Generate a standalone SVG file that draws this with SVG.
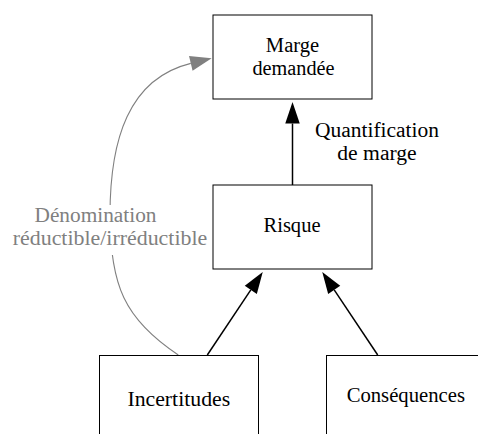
<svg xmlns="http://www.w3.org/2000/svg" width="478" height="434" viewBox="0 0 478 434" font-family="Liberation Serif, DejaVu Serif, Times New Roman, serif">
  <defs>
    <style>
      .box { fill: #ffffff; stroke: #000000; stroke-width: 1; }
      .lbl { font-size: 20px; fill: #000000; text-anchor: middle; }
      .note { font-size: 20px; fill: #808080; text-anchor: middle; }
      .edge { fill: none; stroke: #000000; stroke-width: 1.5; }
      .edge-gray { fill: none; stroke: #808080; stroke-width: 1.1; }
    </style>
    <!-- triangular heads; the path ends at the base of the head -->
    <marker id="head" markerUnits="userSpaceOnUse" markerWidth="22" markerHeight="15" refX="0" refY="7.25" orient="auto" overflow="visible">
      <path d="M0,0 L21.5,7.25 L0,14.5 z" fill="#000000"/>
    </marker>
    <marker id="head-gray" markerUnits="userSpaceOnUse" markerWidth="22" markerHeight="16" refX="0" refY="7.5" orient="auto" overflow="visible">
      <path d="M0,0 L21.5,7.5 L0,15 z" fill="#808080"/>
    </marker>
  </defs>

  <rect width="478" height="434" fill="#ffffff"/>

  <!-- connectors -->
  <g id="connectors">
    <path class="edge" d="M292.5,185 L292.5,123.5" marker-end="url(#head)"/>
    <path class="edge" d="M207.3,355 L250.8,289.9" marker-end="url(#head)"/>
    <path class="edge" d="M377.7,355 L334.2,289.9" marker-end="url(#head)"/>
    <path class="edge-gray" d="M178.3,355 C124.35,319.25 110,285 110,215 C110,140 128.5,78.6 190.8,63.35" marker-end="url(#head-gray)"/>
  </g>

  <!-- label of the gray connector, on a white ground -->
  <g id="label-denomination">
    <rect x="8" y="205" width="203" height="50" fill="#ffffff"/>
    <text class="note" x="95.5" y="221.5" textLength="122" lengthAdjust="spacingAndGlyphs">Dénomination</text>
    <text class="note" x="110" y="245" textLength="194.5" lengthAdjust="spacingAndGlyphs">réductible/irréductible</text>
  </g>

  <g id="label-quantification">
    <text class="lbl" x="377" y="136.5" textLength="124" lengthAdjust="spacingAndGlyphs">Quantification</text>
    <text class="lbl" x="377" y="159.5" textLength="79.4" lengthAdjust="spacingAndGlyphs">de marge</text>
  </g>

  <g id="marge">
    <rect class="box" x="213" y="15" width="159" height="84"/>
    <text class="lbl" x="292.5" y="52" textLength="53.3" lengthAdjust="spacingAndGlyphs">Marge</text>
    <text class="lbl" x="293.5" y="75" textLength="82" lengthAdjust="spacingAndGlyphs">demandée</text>
  </g>

  <g id="risque">
    <rect class="box" x="213" y="185" width="159" height="84"/>
    <text class="lbl" x="292" y="232" textLength="57" lengthAdjust="spacingAndGlyphs">Risque</text>
  </g>

  <g id="incertitudes">
    <rect class="box" x="99.5" y="355.5" width="159" height="84"/>
    <text class="lbl" x="178.8" y="405.5" textLength="102.7" lengthAdjust="spacingAndGlyphs">Incertitudes</text>
  </g>

  <g id="consequences">
    <rect class="box" x="326.5" y="355.5" width="159" height="84"/>
    <text class="lbl" x="405.8" y="402" textLength="118.3" lengthAdjust="spacingAndGlyphs">Conséquences</text>
  </g>
</svg>
